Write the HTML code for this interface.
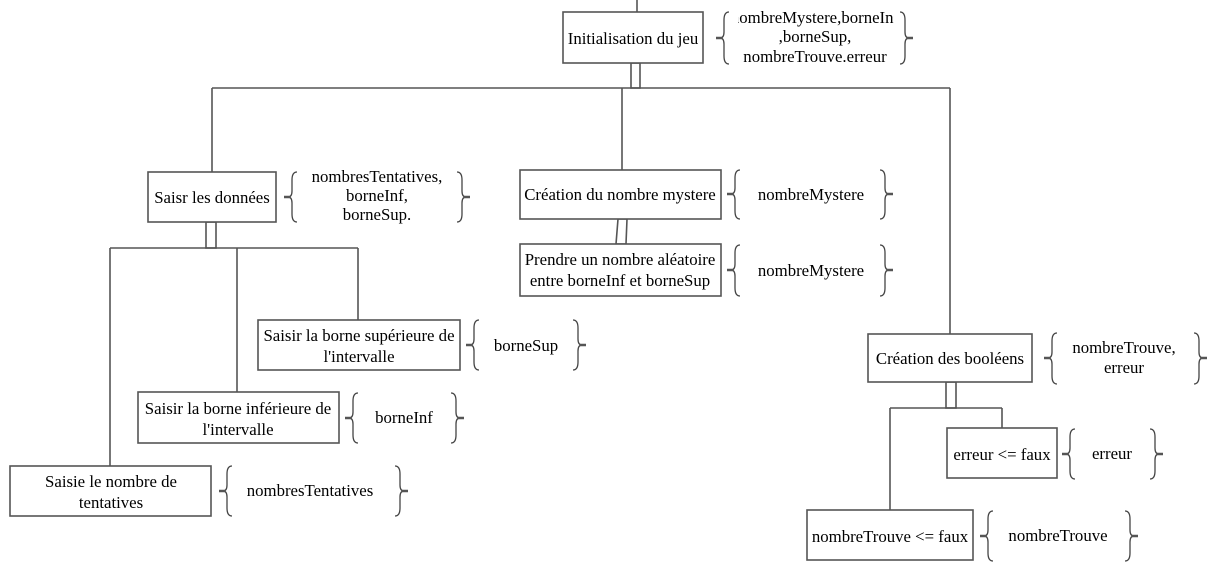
<!DOCTYPE html>
<html><head><meta charset="utf-8"><style>
body{margin:0;background:#fff;}
svg{display:block;}
text{font-family:"Liberation Serif",serif;font-size:16.8px;fill:#000;}
</style></head><body>
<svg width="1224" height="584" viewBox="0 0 1224 584" xmlns="http://www.w3.org/2000/svg">
<defs>
<clipPath id="c1"><rect x="738" y="0" width="156" height="80"/></clipPath>
</defs>
<g stroke="#555" stroke-width="1.6" fill="none">
<line x1="637" y1="0" x2="637" y2="12"/>
<rect x="631" y="63" width="9" height="25"/>
<line x1="212" y1="88" x2="950" y2="88"/>
<line x1="212" y1="88" x2="212" y2="172"/>
<line x1="622" y1="88" x2="622" y2="170"/>
<line x1="950" y1="88" x2="950" y2="334"/>
<rect x="206" y="222" width="10" height="26"/>
<line x1="110" y1="248" x2="358" y2="248"/>
<line x1="110" y1="248" x2="110" y2="466"/>
<line x1="237" y1="248" x2="237" y2="392"/>
<line x1="358" y1="248" x2="358" y2="320"/>
<polygon points="618,219 627,219 626,244 616,244"/>
<rect x="946" y="382" width="10" height="26"/>
<line x1="890" y1="408" x2="1002" y2="408"/>
<line x1="890" y1="408" x2="890" y2="510"/>
<line x1="1002" y1="408" x2="1002" y2="428"/>
</g>
<g stroke="#555" stroke-width="1.6" fill="#fff">
<rect x="563" y="12" width="140" height="51"/>
<rect x="148" y="172" width="128" height="50"/>
<rect x="520" y="170" width="201" height="49"/>
<rect x="520" y="244" width="201" height="52"/>
<rect x="258" y="320" width="202" height="50"/>
<rect x="138" y="392" width="201" height="51"/>
<rect x="10" y="466" width="201" height="50"/>
<rect x="868" y="334" width="164" height="48"/>
<rect x="947" y="428" width="110" height="50"/>
<rect x="807" y="510" width="166" height="50"/>
</g>
<g stroke="#444" stroke-width="1.3" fill="none">
<path d="M729 12 Q724 12 724 20 L724 32 Q724 38 720 38 Q724 38 724 44 L724 56 Q724 64 729 64"/>
<path d="M900 12 Q905 12 905 20 L905 32 Q905 38 909 38 Q905 38 905 44 L905 56 Q905 64 900 64"/>
<path d="M297 172 Q292 172 292 180 L292 191 Q292 197 288 197 Q292 197 292 203 L292 214 Q292 222 297 222"/>
<path d="M457 172 Q462 172 462 180 L462 191 Q462 197 466 197 Q462 197 462 203 L462 214 Q462 222 457 222"/>
<path d="M740 170 Q735 170 735 178 L735 188 Q735 194 731 194 Q735 194 735 200 L735 211 Q735 219 740 219"/>
<path d="M880 170 Q885 170 885 178 L885 188 Q885 194 889 194 Q885 194 885 200 L885 211 Q885 219 880 219"/>
<path d="M740 245 Q735 245 735 253 L735 264 Q735 270 731 270 Q735 270 735 276 L735 288 Q735 296 740 296"/>
<path d="M880 245 Q885 245 885 253 L885 264 Q885 270 889 270 Q885 270 885 276 L885 288 Q885 296 880 296"/>
<path d="M479 320 Q474 320 474 328 L474 339 Q474 345 470 345 Q474 345 474 351 L474 362 Q474 370 479 370"/>
<path d="M573 320 Q578 320 578 328 L578 339 Q578 345 582 345 Q578 345 578 351 L578 362 Q578 370 573 370"/>
<path d="M358 393 Q353 393 353 401 L353 412 Q353 418 349 418 Q353 418 353 424 L353 435 Q353 443 358 443"/>
<path d="M451 393 Q456 393 456 401 L456 412 Q456 418 460 418 Q456 418 456 424 L456 435 Q456 443 451 443"/>
<path d="M232 466 Q227 466 227 474 L227 485 Q227 491 223 491 Q227 491 227 497 L227 508 Q227 516 232 516"/>
<path d="M395 466 Q400 466 400 474 L400 485 Q400 491 404 491 Q400 491 400 497 L400 508 Q400 516 395 516"/>
<path d="M1057 333 Q1052 333 1052 341 L1052 352 Q1052 358 1048 358 Q1052 358 1052 364 L1052 376 Q1052 384 1057 384"/>
<path d="M1194 333 Q1199 333 1199 341 L1199 352 Q1199 358 1203 358 Q1199 358 1199 364 L1199 376 Q1199 384 1194 384"/>
<path d="M1075 429 Q1070 429 1070 437 L1070 448 Q1070 454 1066 454 Q1070 454 1070 460 L1070 471 Q1070 479 1075 479"/>
<path d="M1150 429 Q1155 429 1155 437 L1155 448 Q1155 454 1159 454 Q1155 454 1155 460 L1155 471 Q1155 479 1150 479"/>
<path d="M993 511 Q988 511 988 519 L988 530 Q988 536 984 536 Q988 536 988 542 L988 553 Q988 561 993 561"/>
<path d="M1125 511 Q1130 511 1130 519 L1130 530 Q1130 536 1134 536 Q1130 536 1130 542 L1130 553 Q1130 561 1125 561"/>
</g>
<g stroke="#555" stroke-width="2.5">
<line x1="716" y1="38" x2="722" y2="38"/><line x1="907" y1="38" x2="913" y2="38"/>
<line x1="284" y1="197" x2="290" y2="197"/><line x1="464" y1="197" x2="470" y2="197"/>
<line x1="727" y1="194" x2="733" y2="194"/><line x1="887" y1="194" x2="893" y2="194"/>
<line x1="727" y1="270" x2="733" y2="270"/><line x1="887" y1="270" x2="893" y2="270"/>
<line x1="466" y1="345" x2="472" y2="345"/><line x1="580" y1="345" x2="586" y2="345"/>
<line x1="345" y1="418" x2="351" y2="418"/><line x1="458" y1="418" x2="464" y2="418"/>
<line x1="219" y1="491" x2="225" y2="491"/><line x1="402" y1="491" x2="408" y2="491"/>
<line x1="1044" y1="358" x2="1050" y2="358"/><line x1="1201" y1="358" x2="1207" y2="358"/>
<line x1="1062" y1="454" x2="1068" y2="454"/><line x1="1157" y1="454" x2="1163" y2="454"/>
<line x1="980" y1="536" x2="986" y2="536"/><line x1="1132" y1="536" x2="1138" y2="536"/>
</g>
<g text-anchor="middle">
<text x="633" y="44">Initialisation du jeu</text>
<g clip-path="url(#c1)">
<text x="815" y="23">nombreMystere,borneInf</text>
<text x="815" y="42">,borneSup,</text>
<text x="815" y="62">nombreTrouve.erreur</text>
</g>
<text x="212" y="203">Saisr les données</text>
<text x="377" y="182">nombresTentatives,</text>
<text x="377" y="201">borneInf,</text>
<text x="377" y="220">borneSup.</text>
<text x="620" y="200">Création du nombre mystere</text>
<text x="811" y="200">nombreMystere</text>
<text x="620" y="265">Prendre un nombre aléatoire</text>
<text x="620" y="286">entre borneInf et borneSup</text>
<text x="811" y="276">nombreMystere</text>
<text x="359" y="341">Saisir la borne supérieure de</text>
<text x="359" y="362">l'intervalle</text>
<text x="526" y="351">borneSup</text>
<text x="238" y="414">Saisir la borne inférieure de</text>
<text x="238" y="435">l'intervalle</text>
<text x="404" y="423">borneInf</text>
<text x="111" y="487">Saisie le nombre de</text>
<text x="111" y="508">tentatives</text>
<text x="310" y="496">nombresTentatives</text>
<text x="950" y="364">Création des booléens</text>
<text x="1124" y="353">nombreTrouve,</text>
<text x="1124" y="373">erreur</text>
<text x="1002" y="460">erreur &lt;= faux</text>
<text x="1112" y="459">erreur</text>
<text x="890" y="542">nombreTrouve &lt;= faux</text>
<text x="1058" y="541">nombreTrouve</text>
</g>
</svg>
</body></html>
